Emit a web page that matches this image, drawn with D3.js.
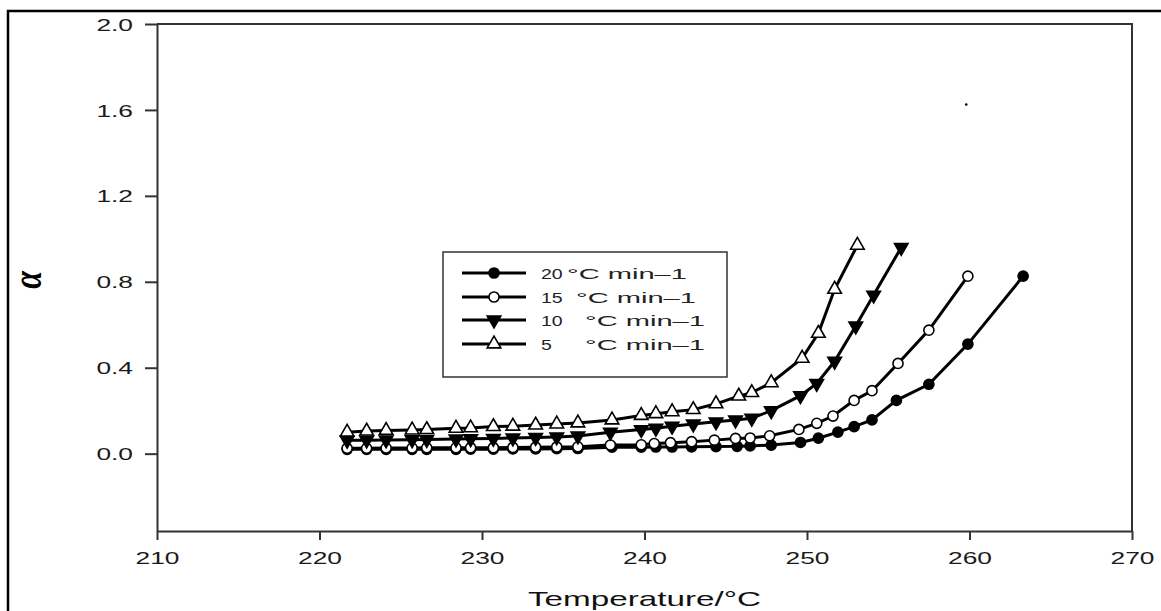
<!DOCTYPE html>
<html><head><meta charset="utf-8">
<script src="https://cdn.jsdelivr.net/npm/d3@7"></script>
<style>html,body{margin:0;padding:0;background:#fff;} svg{display:block;}</style>
</head><body>
<svg id="chart" width="1161" height="611"></svg>
<script>
// ---------------- data ----------------
const legendLabels = ["20 °C min–1", "15  °C min–1", "10   °C min–1", "5     °C min–1"];

const temp20  = [221.7,222.9,224.1,225.7,226.6,228.4,229.3,230.7,231.9,233.3,234.6,235.9,238.0,239.8,240.7,241.7,242.9,244.4,245.7,246.5,247.8,249.6,250.7,251.9,252.9,254.0,255.5,257.5,259.9,263.3];
const alpha20 = [0.020,0.020,0.020,0.020,0.020,0.020,0.021,0.021,0.022,0.022,0.023,0.024,0.030,0.030,0.031,0.031,0.032,0.033,0.034,0.036,0.040,0.052,0.072,0.100,0.126,0.157,0.248,0.323,0.510,0.826];

const temp15  = [221.7,222.9,224.1,225.7,226.6,228.4,229.3,230.7,231.9,233.3,234.6,235.9,237.9,239.8,240.6,241.6,242.9,244.3,245.6,246.5,247.7,249.5,250.6,251.6,252.9,254.0,255.6,257.5,259.9];
const alpha15 = [0.025,0.025,0.026,0.026,0.027,0.027,0.028,0.028,0.029,0.030,0.031,0.032,0.040,0.041,0.047,0.051,0.056,0.063,0.071,0.073,0.083,0.113,0.141,0.175,0.248,0.293,0.420,0.575,0.826];

const temp10  = [221.7,222.9,224.1,225.7,226.6,228.4,229.3,230.7,231.9,233.3,234.6,235.9,237.9,239.8,240.7,241.7,243.0,244.4,245.6,246.6,247.8,249.6,250.6,251.7,253.0,254.1,255.8];
const alpha10 = [0.062,0.063,0.064,0.065,0.066,0.068,0.069,0.071,0.073,0.075,0.078,0.082,0.100,0.112,0.118,0.128,0.138,0.148,0.157,0.165,0.200,0.270,0.327,0.430,0.594,0.738,0.960];

const temp5   = [221.7,222.9,224.1,225.7,226.6,228.4,229.3,230.7,231.9,233.3,234.6,235.9,238.0,239.8,240.7,241.7,243.0,244.4,245.8,246.6,247.8,249.7,250.7,251.7,253.1];
const alpha5  = [0.100,0.105,0.108,0.110,0.112,0.118,0.120,0.126,0.128,0.133,0.138,0.143,0.157,0.178,0.186,0.195,0.205,0.232,0.268,0.284,0.330,0.444,0.560,0.765,0.970];

const strayT = [259.8];
const strayAlpha = [1.625];

const xTicks = [210, 220, 230, 240, 250, 260, 270];
const yTicks = [0.0, 0.4, 0.8, 1.2, 1.6, 2.0];
const xDomain = [210, 270];
const yDomain = [-0.36, 2.0];
const xTitle = "Temperature/°C";
const yTitle = "α";

// ---------------- layout ----------------
const W = 1161, H = 611;
const plot = {left: 157, right: 1132, top: 24, bottom: 531};
const svg = d3.select("#chart");
const FONT = "'Liberation Sans', Arial, sans-serif";
const SX = 1.55;

const x = d3.scaleLinear().domain(xDomain).range([plot.left, plot.right]);
const y = d3.scaleLinear().domain(yDomain).range([plot.bottom, plot.top]);

// outer frame (left + top)
svg.append("path")
  .attr("d", `M8,${H + 5} L8,11 L${W + 5},11`)
  .attr("fill", "none").attr("stroke", "#000").attr("stroke-width", 2.5);

// top + right plot frame
svg.append("path")
  .attr("d", `M${plot.left},${plot.top} L${plot.right},${plot.top} L${plot.right},${plot.bottom}`)
  .attr("fill", "none").attr("stroke", "#333").attr("stroke-width", 2);

// x axis
const gx = svg.append("g")
  .attr("transform", `translate(0,${plot.bottom})`)
  .call(d3.axisBottom(x).tickValues(xTicks).tickSize(9).tickSizeOuter(0).tickFormat(d3.format("d")));
gx.select(".domain").attr("stroke", "#333").attr("stroke-width", 2);
gx.selectAll(".tick line").attr("stroke", "#333").attr("stroke-width", 2);
gx.selectAll(".tick text")
  .attr("y", 0).attr("dy", 0)
  .attr("transform", `translate(0,33) scale(${SX},1)`)
  .attr("font-family", FONT).attr("font-size", 17).attr("fill", "#1a1a1a");

// y axis
const gy = svg.append("g")
  .attr("transform", `translate(${plot.left},0)`)
  .call(d3.axisLeft(y).tickValues(yTicks).tickSize(12).tickSizeOuter(0).tickFormat(d3.format(".1f")));
gy.select(".domain").attr("stroke", "#333").attr("stroke-width", 2);
gy.selectAll(".tick line").attr("stroke", "#333").attr("stroke-width", 2);
gy.selectAll(".tick text")
  .attr("x", 0).attr("dy", "0.36em")
  .attr("transform", `translate(-24,0) scale(${SX},1)`)
  .attr("font-family", FONT).attr("font-size", 17).attr("fill", "#1a1a1a");

// titles
svg.append("text")
  .attr("x", 528).attr("y", 606)
  .attr("textLength", 233).attr("lengthAdjust", "spacingAndGlyphs")
  .attr("font-family", FONT).attr("font-size", 21).attr("fill", "#111")
  .text(xTitle);

svg.append("text")
  .attr("transform", `translate(41,280) scale(1.35,1) rotate(-90)`)
  .attr("text-anchor", "middle")
  .attr("font-family", "'Liberation Serif', 'DejaVu Serif', serif")
  .attr("font-style", "italic").attr("font-weight", "bold")
  .attr("font-size", 32).attr("fill", "#000")
  .text(yTitle);

// ---------------- series ----------------
const symCircle = d3.symbol().type(d3.symbolCircle).size(80)();
const symTri = d3.symbol().type(d3.symbolTriangle).size(80)();
const styles = [
  {path: symCircle, fill: "#000", rot: 0},
  {path: symCircle, fill: "#fff", rot: 0},
  {path: symTri, fill: "#000", rot: 180},
  {path: symTri, fill: "#fff", rot: 0}
];
const series = [
  {t: temp20, a: alpha20},
  {t: temp15, a: alpha15},
  {t: temp10, a: alpha10},
  {t: temp5,  a: alpha5}
].map(s => s.t.map((t, i) => ({t, a: s.a[i]})));

const line = d3.line().x(d => x(d.t)).y(d => y(d.a));

series.forEach((pts, k) => {
  const st = styles[k];
  svg.append("path").datum(pts)
    .attr("d", line).attr("fill", "none")
    .attr("stroke", "#000").attr("stroke-width", 3);
  svg.append("g").selectAll("path").data(pts).join("path")
    .attr("d", st.path)
    .attr("transform", d => `translate(${x(d.t)},${y(d.a)}) rotate(${st.rot})`)
    .attr("fill", st.fill).attr("stroke", "#000").attr("stroke-width", 1.6);
});

// stray point
svg.append("g").selectAll("circle").data(strayT).join("circle")
  .attr("cx", (d, i) => x(d)).attr("cy", (d, i) => y(strayAlpha[i]))
  .attr("r", 1.3).attr("fill", "#000");

// ---------------- legend ----------------
const lg = svg.append("g");
lg.append("rect").attr("x", 443).attr("y", 252).attr("width", 284).attr("height", 125)
  .attr("fill", "#fff").attr("stroke", "#333").attr("stroke-width", 1.5);
const rowY = [273, 297, 320, 344];
const unitX = [567, 576, 585, 585];
legendLabels.forEach((lab, k) => {
  const st = styles[k];
  const yy = rowY[k];
  lg.append("line").attr("x1", 462).attr("x2", 526).attr("y1", yy).attr("y2", yy)
    .attr("stroke", "#000").attr("stroke-width", 3);
  lg.append("path").attr("d", st.path)
    .attr("transform", `translate(494,${yy}) rotate(${st.rot})`)
    .attr("fill", st.fill).attr("stroke", "#000").attr("stroke-width", 1.6);
  const num = lab.split(" ")[0];
  const unit = lab.slice(lab.indexOf("°"));
  lg.append("text")
    .attr("transform", `translate(541,${yy + 6}) scale(1.3,1)`)
    .attr("font-family", FONT).attr("font-size", 15).attr("fill", "#222")
    .text(num);
  lg.append("text")
    .attr("x", unitX[k]).attr("y", yy + 6)
    .attr("textLength", 120).attr("lengthAdjust", "spacingAndGlyphs")
    .attr("font-family", FONT).attr("font-size", 15).attr("fill", "#222")
    .text(unit);
});
</script>
</body></html>
